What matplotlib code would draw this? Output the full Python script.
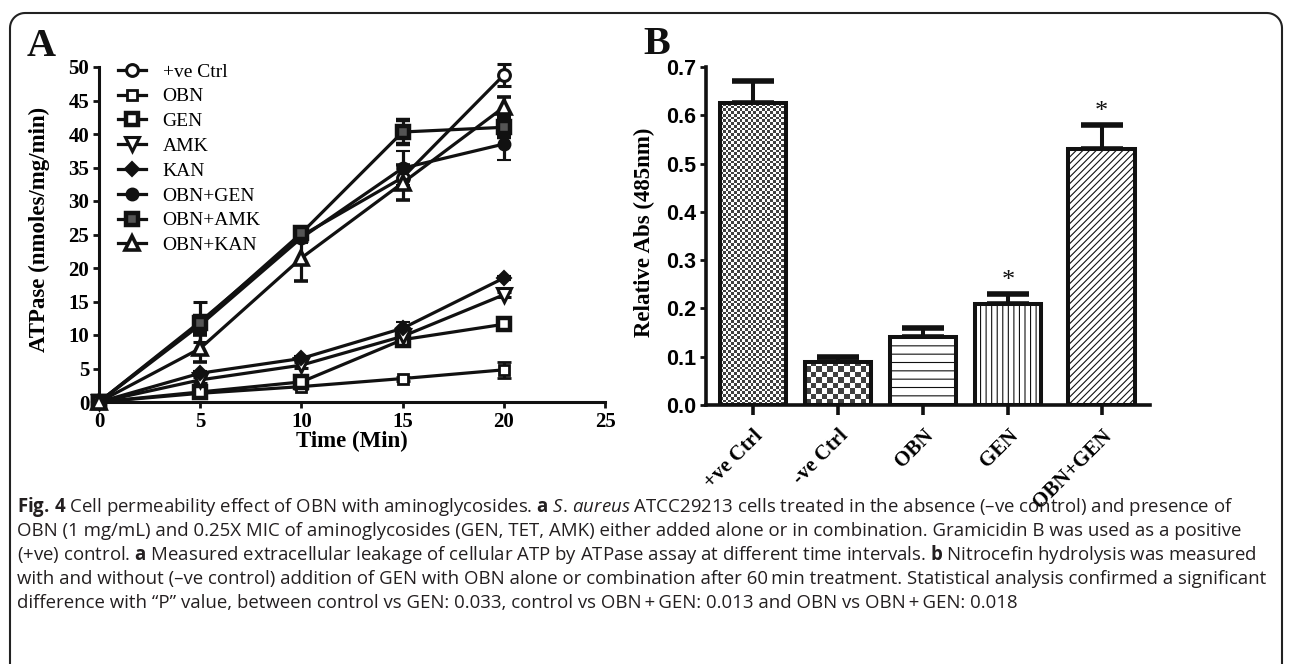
import numpy as np
import matplotlib.pyplot as plt
from matplotlib.lines import Line2D

# ---- panel A: ATPase over time ----
time_min = [0, 5, 10, 15, 20]
series_names = ['+ve Ctrl', 'OBN', 'GEN', 'AMK', 'KAN', 'OBN+GEN', 'OBN+AMK', 'OBN+KAN']
atp_pos_ctrl = [0, 12.0, 24.8, 33.5, 48.8]
atp_obn = [0, 1.3, 2.3, 3.5, 4.8]
atp_gen = [0, 1.5, 3.0, 9.3, 11.6]
atp_amk = [0, 3.3, 5.5, 9.8, 16.0]
atp_kan = [0, 4.3, 6.5, 11.0, 18.5]
atp_obn_gen = [0, 11.5, 24.5, 34.9, 38.5]
atp_obn_amk = [0, 11.8, 25.2, 40.3, 41.0]
atp_obn_kan = [0, 8.0, 21.5, 32.7, 44.0]
err_pos_ctrl = [0, 3.0, 0.8, 1.5, 1.6]
err_obn = [0, 0.5, 0.4, 0.3, 1.2]
err_gen = [0, 0.5, 0.5, 0.6, 0.6]
err_amk = [0, 0.4, 0.4, 0.5, 0.4]
err_kan = [0, 0.4, 0.3, 1.0, 0.3]
err_obn_gen = [0, 1.2, 0.8, 2.5, 2.4]
err_obn_amk = [0, 1.0, 0.8, 1.8, 1.5]
err_obn_kan = [0, 2.0, 3.4, 2.6, 1.5]

# ---- panel B: nitrocefin hydrolysis ----
groups = ['+ve Ctrl', '-ve Ctrl', 'OBN', 'GEN', 'OBN+GEN']
rel_abs = [0.625, 0.09, 0.14, 0.21, 0.53]
rel_abs_err = [0.045, 0.01, 0.02, 0.02, 0.05]
signif = ['', '', '', '*', '*']

# mathtext puts extra space after '.', \! takes it back
caption_lines = [
    r'$\mathbf{Fig.}\!$ $\mathbf{4}$ Cell permeability effect of OBN with aminoglycosides. $\mathbf{a}$ $\mathit{S.}\!$ $\mathit{aureus}$ ATCC29213 cells treated in the absence (' + '\u2013' + 've control) and presence of',
    'OBN (1 mg/mL) and 0.25X MIC of aminoglycosides (GEN, TET, AMK) either added alone or in combination. Gramicidin B was used as a positive',
    r'(+ve) control. $\mathbf{a}$ Measured extracellular leakage of cellular ATP by ATPase assay at different time intervals. $\mathbf{b}$ Nitrocefin hydrolysis was measured',
    'with and without (\u2013ve control) addition of GEN with OBN alone or combination after 60\u2009min treatment. Statistical analysis confirmed a significant',
    'difference with \u201cP\u201d value, between control vs GEN: 0.033, control vs OBN\u2009+\u2009GEN: 0.013 and OBN vs OBN\u2009+\u2009GEN: 0.018',
]

plt.rcParams['mathtext.fontset'] = 'custom'
plt.rcParams['mathtext.bf'] = 'Open Sans:bold'
plt.rcParams['mathtext.it'] = 'Open Sans:italic'
plt.rcParams['mathtext.rm'] = 'Open Sans'
plt.rcParams['hatch.linewidth'] = 0.8

INK = '#111111'
SERIF = 'Liberation Serif'
W, H = 1290, 664

fig = plt.figure(figsize=(12.9, 6.64), dpi=100)

# rounded frame (open at the bottom, runs off the image)
r = 15
ang = np.linspace(np.pi, np.pi / 2, 12)
left_x, right_x, top_y = 10, 1282, 13
fx = [left_x] + list(left_x + r + r * np.cos(ang)) + list(right_x - r - r * np.cos(ang[::-1])) + [right_x]
fy = [H + 5] + list(top_y + r - r * np.sin(ang)) + list(top_y + r - r * np.sin(ang[::-1])) + [H + 5]
fig.add_artist(Line2D(np.array(fx) / W, 1 - np.array(fy) / H, transform=fig.transFigure,
                      color='#222222', lw=1.5))

# ================= panel A =================
axA = fig.add_axes([99 / W, 1 - 402 / H, 506 / W, 335 / H])
a_data = [atp_pos_ctrl, atp_obn, atp_gen, atp_amk, atp_kan, atp_obn_gen, atp_obn_amk, atp_obn_kan]
a_err = [err_pos_ctrl, err_obn, err_gen, err_amk, err_kan, err_obn_gen, err_obn_amk, err_obn_kan]
a_style = {
    '+ve Ctrl': dict(marker='o', mfc='white', ms=8.5, mew=2.2),
    'OBN': dict(marker='s', mfc='white', ms=7.5, mew=2.0),
    'GEN': dict(marker='s', mfc='white', ms=9, mew=3.2),
    'AMK': dict(marker='v', mfc='white', ms=9.5, mew=2.2),
    'KAN': dict(marker='D', mfc=INK, ms=7.5, mew=1.5),
    'OBN+GEN': dict(marker='o', mfc=INK, ms=8.5, mew=1.5),
    'OBN+AMK': dict(marker='s', mfc='#555555', ms=9, mew=3.2),
    'OBN+KAN': dict(marker='^', mfc='white', ms=9.5, mew=2.6),
}
handles = []
for name, vals, errs in zip(series_names, a_data, a_err):
    st = a_style[name]
    c = axA.errorbar(time_min, vals, yerr=errs, color=INK, lw=2.3,
                     marker=st['marker'], ms=st['ms'], mfc=st['mfc'], mec=INK,
                     mew=st['mew'], capsize=5, capthick=2.6, elinewidth=2.3,
                     label=name, clip_on=False, zorder=3)
    handles.append(c.lines[0])

axA.set_xlim(0, 25)
axA.set_ylim(0, 50)
axA.set_xticks(range(0, 26, 5))
axA.set_yticks(range(0, 51, 5))
for s in ['top', 'right']:
    axA.spines[s].set_visible(False)
for s in ['left', 'bottom']:
    axA.spines[s].set_linewidth(2.2)
    axA.spines[s].set_color(INK)
axA.tick_params(width=2, length=4, color=INK, pad=3)
for lbl in axA.get_xticklabels() + axA.get_yticklabels():
    lbl.set_fontfamily(SERIF)
    lbl.set_fontweight('bold')
    lbl.set_fontsize(15)
axA.set_xlabel('Time (Min)', family=SERIF, weight='bold', fontsize=16.5)
axA.set_ylabel('ATPase (nmoles/mg/min)', family=SERIF, weight='bold', fontsize=16.5)
axA.xaxis.set_label_coords(0.5, -0.085)
axA.yaxis.set_label_coords(-0.097, 0.515)
axA.legend(handles, series_names, loc='upper left', bbox_to_anchor=(118 / W, 1 - 63 / H),
           bbox_transform=fig.transFigure, frameon=False, borderpad=0, borderaxespad=0,
           handlelength=1.45, handletextpad=0.85, labelspacing=0.37,
           prop=dict(family=SERIF, size=14))
fig.text(41 / W, 1 - 46 / H, 'A', family=SERIF, weight='bold', fontsize=29,
         ha='center', va='center', color=INK)

# ================= panel B =================
axB = fig.add_axes([706 / W, 1 - 405 / H, 444 / W, 338 / H])
bar_pos = [0, 1, 2, 3, 4.1]
bar_w = 0.78
bars = axB.bar(bar_pos, rel_abs, width=bar_w, facecolor='white', edgecolor=INK,
               linewidth=2.9, zorder=2)
# checkerboard fills for the two control bars
for bar, ncell in zip(bars[:2], [24, 12]):
    x0, h = bar.get_x(), bar.get_height()
    nrow = max(int(round(h / 0.7 * 338 / (66 / ncell))), 1)
    board = np.add.outer(np.arange(nrow), np.arange(ncell)) % 2
    bar.set_facecolor('none')
    im = axB.imshow(board, cmap='Greys', vmin=0, vmax=1.25, extent=(x0, x0 + bar_w, 0, h),
                    aspect='auto', interpolation='nearest', zorder=1.5)
    im.set_clip_path(bar)
for bar, hatch in zip(bars[2:], ['--', '|||', '/////']):
    bar.set_hatch(hatch)
axB.errorbar(bar_pos, rel_abs, yerr=[np.zeros(len(rel_abs)), rel_abs_err], fmt='none',
             ecolor=INK, elinewidth=2.9, capsize=15, capthick=4, zorder=1)
for x, v, e, mark in zip(bar_pos, rel_abs, rel_abs_err, signif):
    if mark:
        axB.text(x, v + e + 0.004, mark, ha='center', va='bottom', family=SERIF,
                 fontsize=19, color=INK)

axB.set_xlim(-0.55, 4.67)
axB.set_ylim(0, 0.7)
axB.set_yticks(np.arange(0, 0.71, 0.1))
axB.set_yticklabels([f'{v:.1f}' for v in np.arange(0, 0.71, 0.1)])
axB.set_xticks(bar_pos)
axB.set_xticklabels(groups, rotation=45, ha='right', va='top', rotation_mode='anchor')
for s in ['top', 'right']:
    axB.spines[s].set_visible(False)
for s in ['left', 'bottom']:
    axB.spines[s].set_linewidth(2.6)
    axB.spines[s].set_color(INK)
axB.tick_params(axis='y', width=2, length=4, color=INK, pad=3)
axB.tick_params(axis='x', width=2.6, length=7, color=INK, pad=8)
for lbl in axB.get_yticklabels():
    lbl.set_fontfamily('Liberation Sans')
    lbl.set_fontweight('bold')
    lbl.set_fontsize(15.5)
for lbl in axB.get_xticklabels():
    lbl.set_fontfamily(SERIF)
    lbl.set_fontweight('bold')
    lbl.set_fontsize(15)
axB.set_ylabel('Relative Abs (485nm)', family=SERIF, weight='bold', fontsize=16.5)
axB.yaxis.set_label_coords(-0.115, 0.51)
fig.text(657 / W, 1 - 44 / H, 'B', family=SERIF, weight='bold', fontsize=29,
         ha='center', va='center', color=INK)

# ================= caption =================
cap_y = [507, 531, 555, 579, 603]
for line, y in zip(caption_lines, cap_y):
    fig.text(17 / W, 1 - y / H, line, family='Open Sans', fontsize=13.4,
             ha='left', va='center', color='#231f20')

fig.savefig('out.png', dpi=100)
